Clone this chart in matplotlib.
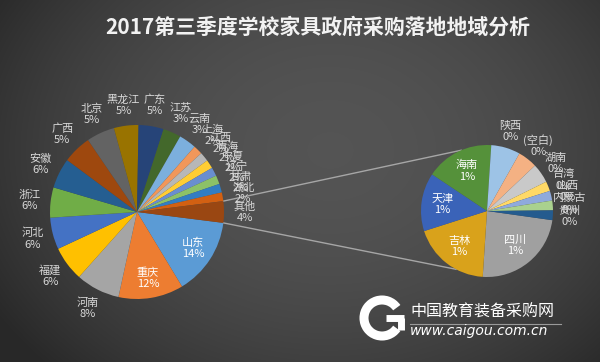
import numpy as np
import matplotlib.pyplot as plt
from matplotlib.patches import Arc

plt.rcParams['font.family'] = ['Noto Sans CJK SC', 'DejaVu Sans']

# main pie (clockwise, starting just below 3 o'clock), last slice = 其他
main_names = ['山东', '重庆', '河南', '福建', '河北', '浙江', '安徽', '广西', '北京', '黑龙江',
              '广东', '江苏', '云南', '上海', '江西', '青海', '宁夏', '辽宁', '甘肃', '湖北']
main_vals = [151, 127, 86, 68, 62, 59, 59, 56, 55, 48,
             49, 35, 34, 18, 18, 17, 17, 17, 17, 17]
main_colors = ['#5B9BD5', '#ED7D31', '#A5A5A5', '#FFC000', '#4472C4', '#70AD47', '#255E91',
               '#9E480E', '#636363', '#997300', '#264478', '#43682B', '#7CAFDD', '#F1975A',
               '#B7B7B7', '#FFCD33', '#698ED0', '#8CC168', '#327DC2', '#D26012']
other_color = '#9A4712'

# secondary pie (breakdown of 其他)
sub_names = ['四川', '吉林', '天津', '海南', '陕西', '(空白)', '湖南', '台湾', '山西', '内蒙古', '贵州']
sub_vals = [10, 8, 6, 7, 3, 2, 2, 1, 1, 1, 1]
sub_colors = ['#A0A0A0', '#D9A21B', '#3A63B8', '#55913A', '#9DC3E6', '#F4B183', '#C9C9C9',
              '#FFD966', '#8FAADC', '#A9D18E', '#245B8E']

title = '2017第三季度学校家具政府采购落地地域分析'

other_val = sum(sub_vals)
total = sum(main_vals) + other_val

fig = plt.figure(figsize=(6, 3.62), dpi=100)
ax = fig.add_axes([0, 0, 1, 1])

# background gradient
yy, xx = np.mgrid[0:362, 0:600]
d = np.sqrt(((xx - 330) / 380.0) ** 2 + ((yy - 150) / 300.0) ** 2)
bg = np.clip(0.33 - 0.16 * d ** 2, 0.16, 0.4)
ax.imshow(np.dstack([bg, bg, bg]), extent=(0, 600, 0, 362), origin='upper', zorder=0)

c1, r1 = (137, 150), 87
c2, r2 = (487, 151), 66

half = other_val / total * 360 / 2
w1, _ = ax.pie(main_vals + [other_val], colors=main_colors + [other_color], center=c1, radius=r1,
               startangle=-half, counterclock=False, frame=True,
               wedgeprops=dict(linewidth=0, zorder=2))
w2, _ = ax.pie(sub_vals, colors=sub_colors, center=c2, radius=r2,
               startangle=-8, counterclock=False, frame=True,
               wedgeprops=dict(linewidth=0, zorder=2))


def pct(v):
    return int(v / total * 100 + 0.5)


def label(w, txt, c, r, k, color):
    a = np.deg2rad((w.theta1 + w.theta2) / 2)
    ax.text(c[0] + k * r * np.cos(a), c[1] + k * r * np.sin(a), txt, ha='center', va='center',
            fontsize=8, color=color, linespacing=1.15, zorder=5)


for w, n, v in zip(w1, main_names + ['其他'], main_vals + [other_val]):
    if n in ('山东', '重庆'):
        label(w, f'{n}\n{pct(v)}%', c1, r1, 0.77, 'white')
    else:
        label(w, f'{n}\n{pct(v)}%', c1, r1, 1.24, '#D9D9D9')

for i, (w, n, v) in enumerate(zip(w2, sub_names, sub_vals)):
    if i < 4:
        label(w, f'{n}\n{pct(v)}%', c2, r2, 0.68, 'white')
    else:
        label(w, f'{n}\n{pct(v)}%', c2, r2, 1.26, '#D9D9D9')

# connector lines
for s, e in ((half, 113), (-half, -118)):
    p0 = (c1[0] + r1 * np.cos(np.deg2rad(s)), c1[1] + r1 * np.sin(np.deg2rad(s)))
    p1 = (c2[0] + r2 * np.cos(np.deg2rad(e)), c2[1] + r2 * np.sin(np.deg2rad(e)))
    ax.plot([p0[0], p1[0]], [p0[1], p1[1]], color='#A6A6A6', lw=1, zorder=1)

ax.text(318, 335, title, ha='center', va='center', fontsize=15, fontweight='bold', color='#F2F2F2')

# watermark
ax.add_patch(Arc((382, 44), 36, 36, theta1=35, theta2=325, lw=6.5, color='white', zorder=3))
ax.plot([386, 404], [44, 44], color='white', lw=5, solid_capstyle='butt', zorder=3)
ax.plot([401, 401], [44, 32], color='white', lw=5, solid_capstyle='butt', zorder=3)
ax.text(410, 50, '中国教育装备采购网', ha='left', va='center', fontsize=11.5, color='white', zorder=3)
ax.plot([410, 561], [38, 38], color='#9A9A9A', lw=0.8, zorder=3)
ax.text(410, 31, 'www.caigou.com.cn', ha='left', va='center', fontsize=10, style='italic',
        color='white', family='DejaVu Sans', zorder=3)

ax.set_xlim(0, 600)
ax.set_ylim(0, 362)
ax.set_aspect('auto')
ax.axis('off')

fig.savefig('out.png', dpi=100)
